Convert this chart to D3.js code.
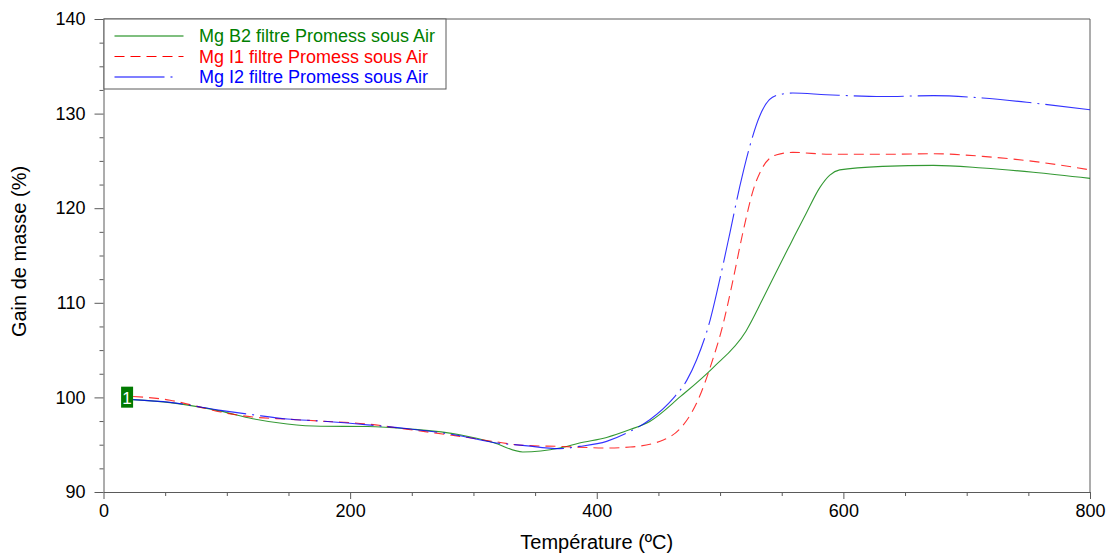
<!DOCTYPE html>
<html>
<head>
<meta charset="utf-8">
<script src="https://cdn.jsdelivr.net/npm/d3@7"></script>
<style>
  body { margin: 0; background: #fff; }
  svg { font-family: "Liberation Sans", Arial, sans-serif; }
</style>
</head>
<body>
<script>
// Mg B2 (green, solid)
const tempB2 = [24, 54, 95, 121, 149, 176, 214, 249, 289, 316, 340, 370, 386, 408, 427, 443, 468, 494, 521, 535, 548, 557, 570, 581, 589, 597, 632, 673, 713, 754, 800];
const massB2 = [99.76, 99.45, 98.55, 97.75, 97.19, 96.95, 96.93, 96.66, 96.06, 95.24, 94.23, 94.65, 95.18, 95.77, 96.6, 97.46, 100.1, 103.1, 107.0, 110.5, 113.9, 116.2, 119.5, 122.2, 123.5, 124.05, 124.42, 124.53, 124.25, 123.8, 123.15];

// Mg I1 (red, dashed)
const tempI1 = [24, 54, 76, 95, 121, 149, 176, 214, 249, 289, 316, 340, 370, 408, 427, 454, 468, 481, 494, 502, 510, 519, 527, 535, 546, 559, 589, 632, 673, 713, 754, 800];
const massI1 = [100.1, 99.7, 99.05, 98.45, 97.93, 97.7, 97.5, 97.19, 96.58, 95.88, 95.35, 94.93, 94.82, 94.65, 94.75, 95.5, 96.76, 99.4, 103.98, 107.5, 112.1, 117.73, 121.96, 124.42, 125.66, 125.9, 125.7, 125.7, 125.76, 125.48, 124.95, 124.05];

// Mg I2 (blue, dash-dot)
const tempI2 = [24, 54, 95, 121, 149, 176, 214, 249, 289, 316, 340, 370, 386, 408, 427, 443, 462, 473, 481, 492, 500, 508, 516, 524, 532, 540, 548, 559, 586, 632, 673, 713, 754, 800];
const massI2 = [99.76, 99.47, 98.63, 98.17, 97.72, 97.5, 97.1, 96.66, 95.95, 95.24, 94.93, 94.58, 94.82, 95.35, 96.4, 97.64, 99.9, 101.8, 103.98, 108.2, 112.6, 117.4, 122.3, 126.5, 129.7, 131.47, 132.0, 132.17, 132.0, 131.8, 131.9, 131.65, 131.12, 130.4];

const seriesNames = ["Mg B2 filtre Promess sous Air", "Mg I1 filtre Promess sous Air", "Mg I2 filtre Promess sous Air"];
const seriesColors = ["#008000", "#ff0000", "#0000ff"];
const seriesDash = [null, "10,6", "50,6,2,6"];

const xTicks = [0, 200, 400, 600, 800];
const yTicks = [90, 100, 110, 120, 130, 140];

const W = 1107, H = 553;
const margin = {top: 19, right: 17, bottom: 61, left: 103.5};
const width = W - margin.left - margin.right,
      height = H - margin.top - margin.bottom;

const svg = d3.select("body").append("svg")
    .attr("width", W)
    .attr("height", H);

const g = svg.append("g")
    .attr("transform", `translate(${margin.left},${margin.top})`);

const x = d3.scaleLinear().domain([0, 800]).range([0, width]);
const y = d3.scaleLinear().domain([90, 140]).range([height, 0]);

const axisColor = "#5a5a5a";

// minor ticks
const xMinor = d3.range(0, 801, 50).filter(v => v % 200 !== 0);
const yMinor = d3.range(90, 140.1, 2.5).filter(v => v % 10 !== 0);

g.append("g")
    .attr("transform", `translate(0,${height})`)
    .call(d3.axisBottom(x).tickValues(xMinor).tickSize(4).tickFormat(""))
    .call(a => a.select(".domain").remove())
    .call(a => a.selectAll("line").attr("stroke", axisColor));

g.append("g")
    .call(d3.axisLeft(y).tickValues(yMinor).tickSize(4).tickFormat(""))
    .call(a => a.select(".domain").remove())
    .call(a => a.selectAll("line").attr("stroke", axisColor));

// major axes
g.append("g")
    .attr("transform", `translate(0,${height})`)
    .call(d3.axisBottom(x).tickValues(xTicks).tickSize(7).tickPadding(5).tickSizeOuter(0))
    .call(a => a.select(".domain").attr("stroke", axisColor))
    .call(a => a.selectAll("line").attr("stroke", axisColor))
    .call(a => a.selectAll("text").attr("font-size", 18).attr("fill", "#000")
        .attr("font-family", "Liberation Sans, Arial, sans-serif"));

g.append("g")
    .call(d3.axisLeft(y).tickValues(yTicks).tickSize(9).tickPadding(9).tickSizeOuter(0))
    .call(a => a.select(".domain").attr("stroke", axisColor))
    .call(a => a.selectAll("line").attr("stroke", axisColor))
    .call(a => a.selectAll("text").attr("font-size", 18).attr("fill", "#000")
        .attr("font-family", "Liberation Sans, Arial, sans-serif"));

// top & right frame
g.append("path")
    .attr("d", `M0,0H${width}V${height}`)
    .attr("fill", "none")
    .attr("stroke", axisColor);

// curves
const series = [
  {temp: tempB2, mass: massB2},
  {temp: tempI1, mass: massI1},
  {temp: tempI2, mass: massI2}
];

const line = d3.line()
    .x(d => x(d[0]))
    .y(d => y(d[1]))
    .curve(d3.curveMonotoneX);

series.forEach((s, i) => {
  const pts = s.temp.map((t, j) => [t, s.mass[j]]);
  g.append("path")
      .datum(pts)
      .attr("d", line)
      .attr("fill", "none")
      .attr("stroke", seriesColors[i])
      .attr("stroke-width", 1.1)
      .attr("stroke-opacity", 0.8)
      .attr("stroke-dasharray", seriesDash[i]);
});

// marker "1" at start of green curve
const mx = x(tempB2[0]), my = y(massB2[0]);
g.append("rect")
    .attr("x", mx - 12)
    .attr("y", my - 13)
    .attr("width", 12)
    .attr("height", 21)
    .attr("fill", "#007a00");
g.append("text")
    .attr("x", mx - 6)
    .attr("y", my + 4)
    .attr("text-anchor", "middle")
    .attr("font-size", 17)
    .attr("fill", "#fff")
    .text("1");

// legend
const legend = g.append("g");
legend.append("rect")
    .attr("x", 0.5)
    .attr("y", 0)
    .attr("width", 342)
    .attr("height", 70)
    .attr("fill", "#fff")
    .attr("stroke", axisColor);

seriesNames.forEach((name, i) => {
  const ly = 17 + i * 20.5;
  legend.append("line")
      .attr("x1", 11).attr("x2", i === 2 ? 70 : 80)
      .attr("y1", ly).attr("y2", ly)
      .attr("stroke", seriesColors[i])
      .attr("stroke-width", 1.1)
      .attr("stroke-dasharray", seriesDash[i]);
  legend.append("text")
      .attr("x", 95.5)
      .attr("y", ly + 6)
      .attr("font-size", 18)
      .attr("fill", seriesColors[i])
      .text(name);
});

// axis titles
svg.append("text")
    .attr("x", margin.left + width / 2)
    .attr("y", 549)
    .attr("text-anchor", "middle")
    .attr("font-size", 20)
    .text("Température (ºC)");

svg.append("text")
    .attr("transform", `translate(26,${margin.top + height / 2 - 4}) rotate(-90)`)
    .attr("text-anchor", "middle")
    .attr("font-size", 20)
    .text("Gain de masse (%)");
</script>
</body>
</html>
